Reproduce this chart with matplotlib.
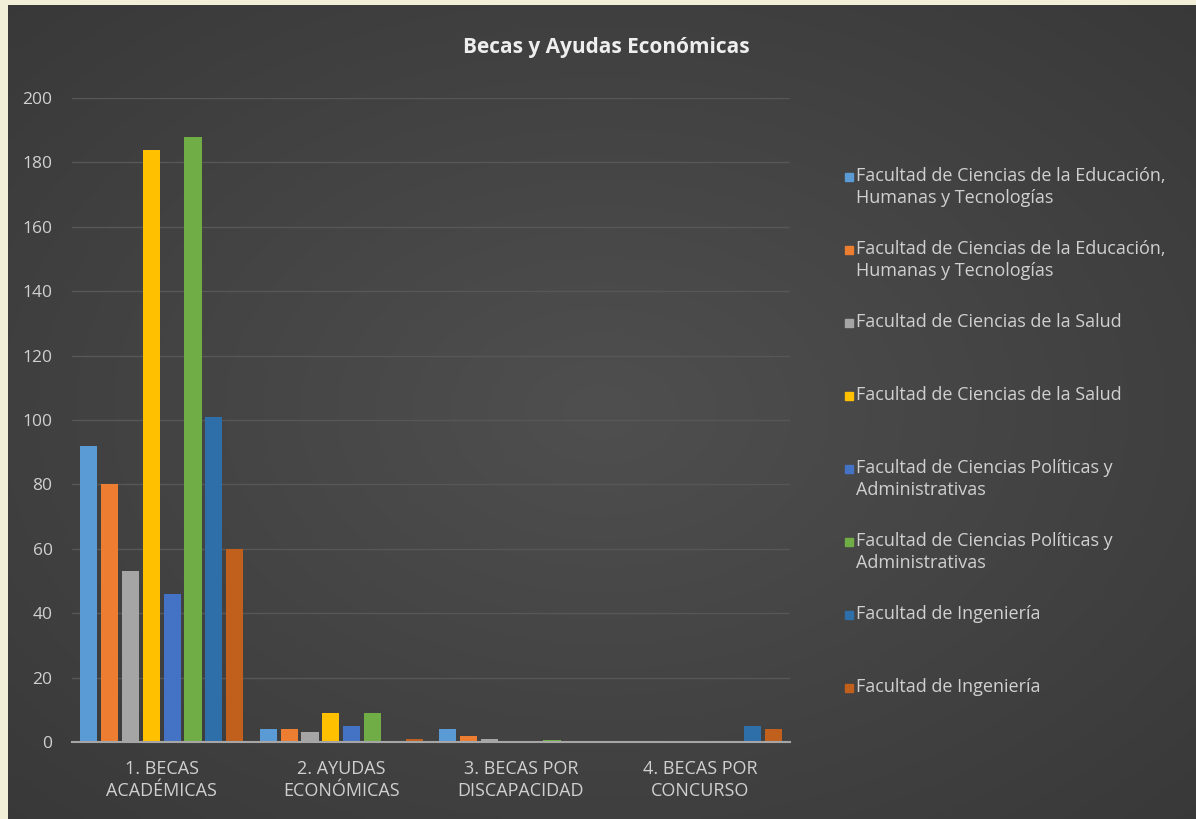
import numpy as np
import matplotlib.pyplot as plt
from matplotlib.patches import Rectangle

plt.rcParams['font.family'] = ['Open Sans', 'DejaVu Sans']

categories = ['1. BECAS\nACADÉMICAS', '2. AYUDAS\nECONÓMICAS', '3. BECAS POR\nDISCAPACIDAD', '4. BECAS POR\nCONCURSO']
series_names = [
    'Facultad de Ciencias de la Educación,\nHumanas y Tecnologías',
    'Facultad de Ciencias de la Educación,\nHumanas y Tecnologías',
    'Facultad de Ciencias de la Salud',
    'Facultad de Ciencias de la Salud',
    'Facultad de Ciencias Políticas y\nAdministrativas',
    'Facultad de Ciencias Políticas y\nAdministrativas',
    'Facultad de Ingeniería',
    'Facultad de Ingeniería',
]
values = [
    [92, 4, 4, 0],
    [80, 4, 2, 0],
    [53, 3, 1, 0],
    [184, 9, 0, 0],
    [46, 5, 0, 0],
    [188, 9, 0.5, 0],
    [101, 0, 0, 5],
    [60, 1, 0, 4],
]
colors = ['#5B9BD5', '#ED7D31', '#A5A5A5', '#FFC000', '#4472C4', '#70AD47', '#2E6FAA', '#C0601C']

fig = plt.figure(figsize=(11.96, 8.19), dpi=100, facecolor='#f2efd8')

# fondo oscuro con degradado
bg = fig.add_axes([8 / 1196, 0, 1 - 8 / 1196, 1 - 5 / 819])
yy, xx = np.mgrid[-1:1:300j, -1:1:400j]
r = np.sqrt(xx ** 2 + yy ** 2)
grad = np.clip(1 - r / 1.45, 0, 1)
level = 0.22 + 0.09 * grad
bg.imshow(np.dstack([level, level, level]), aspect='auto', extent=[0, 1, 0, 1])
bg.set_axis_off()

ax = fig.add_axes([72 / 1196, 1 - 742 / 819, 718 / 1196, 644 / 819])
ax.set_facecolor('none')

x = np.arange(len(categories))
step = 0.116
width = 0.095
for i, (name, vals, c) in enumerate(zip(series_names, values, colors)):
    ax.bar(x + (i - 3.5) * step, vals, width, color=c, label=name, zorder=3)

ax.set_xlim(-0.5, 3.5)
ax.set_ylim(0, 200)
ax.set_yticks(range(0, 201, 20))
ax.grid(axis='y', color='#575757', linewidth=1, zorder=0)
ax.set_xticks(x)
ax.set_xticklabels(categories, color='#d0d0d0', fontsize=13, linespacing=1.3)
ax.tick_params(axis='y', colors='#d0d0d0', labelsize=12.5, length=0, pad=14)
ax.tick_params(axis='x', length=0, pad=13)
for s in ['top', 'right', 'left']:
    ax.spines[s].set_visible(False)
ax.spines['bottom'].set_color('#a6a6a6')
ax.spines['bottom'].set_linewidth(1.5)
ax.spines['bottom'].set_zorder(4)

fig.text(606 / 1196, 1 - 47 / 819, 'Becas y Ayudas Económicas', ha='center', va='center',
         fontsize=15, fontweight='bold', color='#eeeeee')

# leyenda
y0 = 173
gap = 73.0
for i, (name, c) in enumerate(zip(series_names, colors)):
    ytop = y0 + i * gap
    fig.patches.append(Rectangle((845 / 1196, 1 - (ytop + 8) / 819), 8 / 1196, 8 / 819,
                                 transform=fig.transFigure, color=c, figure=fig))
    fig.text(856 / 1196, 1 - (ytop - 6) / 819, name, ha='left', va='top', fontsize=13,
             color='#d0d0d0', linespacing=1.3)

fig.savefig('out.png', dpi=100, facecolor=fig.get_facecolor())
